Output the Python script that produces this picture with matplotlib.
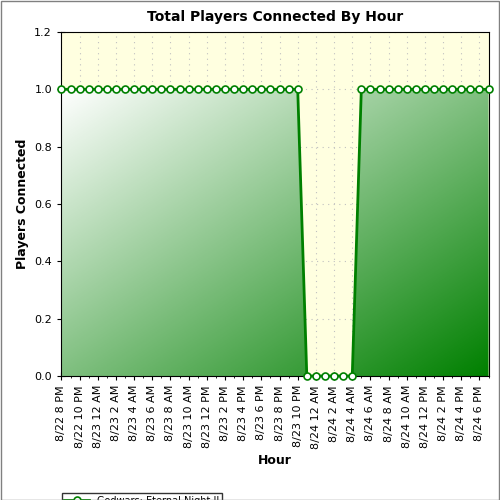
import matplotlib

matplotlib.use("Agg")
import matplotlib.pyplot as plt
import numpy as np
from matplotlib.colors import LinearSegmentedColormap
from matplotlib.patches import Polygon, Rectangle

# hourly samples from 8/22 8 PM to 8/24 7 PM
players = [1] * 27 + [0] * 6 + [1] * 15
tick_labels = [
    "8/22 8 PM", "8/22 10 PM", "8/23 12 AM", "8/23 2 AM", "8/23 4 AM", "8/23 6 AM",
    "8/23 8 AM", "8/23 10 AM", "8/23 12 PM", "8/23 2 PM", "8/23 4 PM", "8/23 6 PM",
    "8/23 8 PM", "8/23 10 PM", "8/24 12 AM", "8/24 2 AM", "8/24 4 AM", "8/24 6 AM",
    "8/24 8 AM", "8/24 10 AM", "8/24 12 PM", "8/24 2 PM", "8/24 4 PM", "8/24 6 PM",
]
series_name = "Godwars: Eternal Night II"

x = np.arange(len(players))
y = np.array(players, dtype=float)

fig = plt.figure(figsize=(5, 5), dpi=100)
fig.patch.set_facecolor("white")
fig.add_artist(Rectangle((0.001, 0.001), 0.997, 0.997, transform=fig.transFigure,
                         fill=False, edgecolor="#808080", lw=1))
ax = fig.add_axes([0.122, 0.248, 0.856, 0.688])
ax.set_facecolor("#FFFFE0")

ax.set_xlim(-0.05, len(players) - 1 + 0.05)
ax.set_ylim(0, 1.2)

# gradient fill clipped to the area under the line: white top-left -> green bottom-right
cmap = LinearSegmentedColormap.from_list("g", ["#FFFFFF", "#008000"])
gx, gy = np.meshgrid(np.linspace(0, 1, 200), np.linspace(0, 1, 200))
grad = (gx + gy) / 2
im = ax.imshow(grad, cmap=cmap, extent=(x[0], x[-1], 0, 1), origin="upper",
               aspect="auto", zorder=1)
poly = Polygon(np.column_stack([np.r_[x[0], x, x[-1]], np.r_[0, y, 0]]),
               closed=True, transform=ax.transData, facecolor="none", edgecolor="none")
ax.add_patch(poly)
im.set_clip_path(poly)

ax.plot(x, y, color="#008000", lw=2, marker="o", ms=5, mfc="white",
        mec="#008000", mew=1.2, zorder=3, clip_on=False, label=series_name)

ax.set_xticks(np.arange(0, len(players), 2))
ax.set_xticklabels(tick_labels, rotation=90, fontsize=8)
ax.set_xticks(np.arange(len(players)), minor=True)
ax.set_yticks(np.arange(0, 1.21, 0.2))
ax.set_yticklabels([f"{v:.1f}" for v in np.arange(0, 1.21, 0.2)], fontsize=8)
ax.grid(True, color="#C0C0C0", linestyle=(0, (1, 4)), lw=0.8)
ax.set_axisbelow(True)
ax.tick_params(direction="inout", length=6, which="major")
ax.tick_params(direction="inout", length=3, which="minor")

ax.set_title("Total Players Connected By Hour", fontsize=10, fontweight="bold", pad=8)
ax.set_xlabel("Hour", fontsize=9, fontweight="bold")
ax.set_ylabel("Players Connected", fontsize=9, fontweight="bold")

ax.legend(loc="lower left", bbox_to_anchor=(-0.01, -0.4), fontsize=7,
          frameon=True, fancybox=False, edgecolor="black", borderpad=0.3,
          handlelength=2.5)

fig.savefig("out.png", dpi=100)
